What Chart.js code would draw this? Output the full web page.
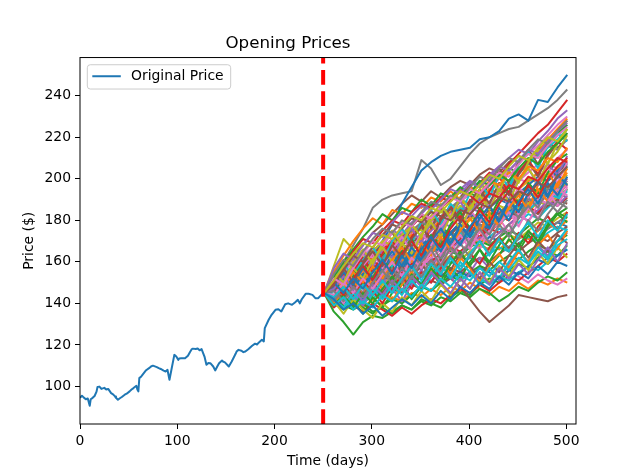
<!DOCTYPE html>
<html>
<head>
<meta charset="utf-8">
<script src="https://cdn.jsdelivr.net/npm/chart.js@4.4.0/dist/chart.umd.min.js"></script>
<style>
  html, body { margin: 0; padding: 0; background: #fff; }
</style>
</head>
<body>
<canvas id="priceChart" width="640" height="476"></canvas>
<script>
// axis limits and ticks
const xMin = 0, xMax = 510;
const yMin = 81.9, yMax = 258.4;
const xTicks = [0, 100, 200, 300, 400, 500];
const yTicks = [100, 120, 140, 160, 180, 200, 220, 240];
const splitDay = 250;

// original series
const origDays = [0, 2, 4, 6, 8, 10, 11, 13, 15, 17, 18, 20, 22, 25, 27, 29, 32, 34, 36, 37, 39, 41, 43, 44, 46, 48, 51, 53, 55, 58,
  59, 60, 61, 63, 65, 67, 68, 71, 73, 75, 79, 81, 83, 86, 88, 90, 91, 92, 94, 97, 99, 101, 102, 104, 108, 111, 113, 115, 116, 119,
  121, 123, 125, 128, 130, 132, 134, 137, 139, 141, 143, 146, 147, 149, 153, 156, 160, 161, 163, 166, 168, 170, 173, 177, 180, 182,
  184, 187, 189, 190, 194, 197, 201, 204, 207, 211, 214, 218, 221, 224, 226, 228, 232, 235, 239, 242, 245, 249, 251];
const origPrices = [94.5, 95.5, 94.6, 93.8, 94.2, 90.7, 93.8, 94.5, 95.4, 97.5, 99.7, 99.9, 98.8, 99.3, 98.5, 98.8, 96.8, 96.2, 95.2, 94.5,
  93.6, 94.3, 94.9, 95.3, 96.0, 96.5, 97.6, 98.5, 99.2, 100.3, 98.5, 97.6, 104.0, 104.8, 106.0, 107.2, 107.8, 108.8, 109.6, 110.0,
  109.3, 108.8, 108.4, 107.6, 107.2, 108.0, 105.5, 103.2, 108.0, 115.2, 114.4, 112.8, 113.5, 113.6, 113.6, 114.8, 116.5, 118.0, 118.2, 118.0,
  118.3, 117.4, 118.0, 114.4, 110.4, 111.3, 111.2, 109.6, 107.7, 109.5, 111.2, 112.5, 112.0, 111.6, 109.6, 112.0, 115.7, 116.8, 117.6, 117.2,
  116.5, 116.8, 117.9, 119.6, 120.6, 120.2, 121.2, 122.5, 121.7, 128.1, 132.1, 134.5, 136.9, 137.2, 136.1, 139.6, 140.0, 139.3, 140.4, 141.7,
  140.0, 142.0, 144.6, 144.6, 144.1, 142.5, 142.5, 144.6, 144.9];

// simulated paths, sampled every 10 days
const simDays = [251, 261, 271, 281, 291, 301, 311, 321, 331, 341, 351, 361, 371, 381, 391, 401, 411, 421, 431, 441, 451, 461, 471, 481, 491, 501];
const simPaths = [
  [145,148,146,151,149,155,153,158,162,160,166,164,170,168,173,176,174,179,182,180,186,184,189,192,190,195],
  [145,136,131,125,131,134,133,136,139,137,142,140,138,143,146,144,149,152,150,156,159,157,162,165,163,168],
  [145,142,147,144,150,148,153,151,157,161,158,164,168,166,171,175,172,178,182,180,185,189,187,193,197,200],
  [145,141,138,143,140,146,150,148,154,158,156,162,160,166,170,173,171,176,180,184,182,188,192,190,196,201],
  [145,152,158,163,168,174,178,183,188,192,189,194,191,196,199,197,202,205,203,208,211,209,214,217,215,219],
  [145,156,160,158,163,167,165,170,174,172,176,180,178,182,186,184,189,193,191,196,200,198,203,207,205,210],
  [145,152,160,168,176,186,190,192,193,194,209,205,197,200,206,212,217,220,222,224,225,228,231,234,238,243],
  [145,158,171,166,162,164,160,165,163,168,166,171,169,174,172,177,175,180,178,183,186,184,189,187,192,195],
  [145,140,143,139,145,142,148,146,151,155,153,158,162,160,165,169,167,172,176,174,179,183,181,186,190,194],
  [145,148,152,155,158,163,170,178,188,196,204,208,211,213,214,215,219,220,223,229,231,228,238,237,244,250],
  [145,141,144,140,138,142,139,143,141,145,143,147,144,148,146,150,147,144,148,146,150,147,151,149,152,150],
  [145,143,139,137,140,136,138,135,139,137,141,139,143,141,145,143,147,145,141,144,148,146,150,153,151,155],
  [145,147,151,149,154,152,157,160,158,163,161,166,170,168,173,171,176,174,179,183,181,186,184,189,187,191],
  [145,150,154,158,156,161,165,163,168,172,170,175,179,177,182,186,184,189,194,199,203,208,212,216,221,226],
  [145,144,140,143,141,145,143,147,145,149,147,151,149,152,148,142,136,131,135,139,144,143,142,141,143,144],
  [145,146,142,145,143,147,144,148,146,150,153,151,155,152,156,154,158,155,152,156,153,150,154,151,149,152],
  [145,149,153,151,156,160,158,163,161,166,170,168,173,171,176,174,179,183,181,186,190,188,193,197,195,199],
  [145,151,148,154,152,157,161,159,164,162,167,171,169,174,178,176,181,179,184,188,186,191,195,193,198,202],
  [145,148,153,151,157,162,160,166,170,168,174,178,176,182,186,184,190,194,198,196,203,207,211,215,219,224],
  [145,147,144,149,152,150,155,158,156,161,164,167,165,170,173,171,168,172,170,167,171,174,172,176,179,177],
  [145,150,155,153,158,162,166,171,169,174,178,182,180,185,189,187,192,188,193,197,195,199,203,201,205,209],
  [145,140,137,141,138,135,139,142,140,144,148,146,150,153,151,155,158,156,160,163,161,165,168,166,170,173],
  [145,138,142,139,136,140,137,134,138,135,139,142,140,144,147,145,149,146,150,153,151,155,158,162,160,164],
  [145,149,146,151,155,153,158,156,161,164,162,167,171,169,173,177,175,180,184,182,187,190,188,193,197,199],
  [145,147,151,155,159,157,162,166,164,169,173,171,176,174,179,182,180,177,181,184,182,186,183,187,190,188],
  [145,150,146,151,155,159,157,162,166,170,168,173,177,181,185,183,188,192,196,194,199,203,207,205,210,214],
  [145,143,148,146,151,149,154,152,156,159,157,161,158,163,161,165,168,166,170,167,171,174,172,176,179,182],
  [145,148,145,150,153,157,155,160,163,161,166,169,173,171,176,180,184,182,187,185,190,188,193,196,194,198],
  [145,141,138,142,140,144,147,145,149,152,150,154,157,155,151,154,152,149,153,151,155,158,156,160,163,166],
  [145,144,148,146,150,153,151,155,158,162,160,164,168,171,169,174,178,176,180,184,188,186,191,195,193,197],
  [145,148,152,150,154,152,157,160,158,163,167,165,169,167,164,168,171,169,166,170,173,171,175,178,176,180],
  [145,151,156,154,160,165,163,168,173,171,177,181,179,185,189,193,191,197,201,205,203,209,214,218,222,226],
  [145,149,154,152,158,163,168,166,172,177,182,180,186,190,195,193,198,203,201,207,212,217,222,226,232,238],
  [145,150,156,161,159,165,170,175,173,179,183,188,186,191,195,199,197,202,206,210,214,212,218,223,229,233],
  [145,142,146,144,148,151,149,153,151,155,158,156,153,157,155,159,162,160,164,167,165,169,172,170,174,177],
  [145,151,155,160,164,162,167,171,175,173,178,182,186,184,189,193,197,195,200,204,208,212,216,221,226,230],
  [145,146,150,148,153,157,155,160,164,162,167,165,170,174,172,177,175,180,178,183,181,186,190,188,193,191],
  [145,152,157,162,160,165,170,168,173,177,175,180,184,182,187,185,190,188,193,197,195,200,198,203,201,205],
  [145,144,141,145,143,147,150,148,152,150,155,153,157,160,158,162,160,164,167,165,169,172,170,174,177,175],
  [145,143,140,144,142,146,144,148,151,149,153,156,154,152,155,153,157,155,152,156,154,158,161,159,163,166],
  [145,147,150,154,158,156,161,165,169,173,171,176,180,184,182,187,191,195,193,198,203,208,213,219,224,229],
  [145,146,143,147,150,148,152,155,153,157,160,158,162,165,163,167,170,168,172,175,173,177,181,179,183,186],
  [145,148,151,149,153,150,154,157,155,159,162,160,164,167,165,169,172,176,174,178,182,186,184,189,193,197],
  [145,140,143,147,145,149,152,150,154,157,161,159,163,166,164,168,172,170,174,178,182,180,185,189,187,192],
  [145,149,147,151,154,158,156,160,164,168,166,171,175,173,178,176,181,185,183,188,192,196,194,199,203,207],
  [145,140,144,142,146,150,148,152,156,154,158,162,166,164,168,172,170,175,179,183,181,186,190,188,193,197],
  [145,148,152,156,160,164,162,167,171,175,179,177,182,186,190,188,193,197,201,199,204,208,212,216,214,219],
  [145,143,146,144,148,145,149,153,151,155,158,156,160,163,161,165,168,166,170,173,171,175,179,177,181,184],
  [145,146,150,148,152,156,154,158,162,160,165,168,166,170,174,172,176,180,178,183,187,185,189,193,191,195],
  [145,148,146,150,154,158,156,161,165,163,168,172,176,174,179,183,181,186,190,188,193,197,201,199,204,208],
  [145,150,143,149,156,151,158,152,160,166,159,168,174,167,176,181,175,184,178,188,194,186,197,203,196,205],
  [145,139,146,141,135,143,138,145,150,142,148,155,149,157,152,160,166,158,163,171,165,173,168,177,183,179],
  [145,153,147,156,162,155,164,170,163,172,178,171,181,187,180,190,185,194,201,193,203,209,202,212,218,214],
  [145,142,150,144,139,146,152,147,141,149,156,150,158,153,147,155,162,157,151,159,165,160,168,163,170,174],
  [145,155,149,158,165,159,168,174,167,177,183,176,186,180,191,197,190,199,205,198,208,214,207,217,223,228],
  [145,147,140,148,143,151,146,154,159,152,161,155,164,170,162,171,166,175,181,174,184,179,188,194,187,196],
  [145,149,156,150,145,153,158,151,160,155,163,169,161,170,176,168,178,173,182,188,181,191,186,195,201,197],
  [145,141,135,142,137,133,140,136,143,139,146,141,149,144,152,147,155,150,158,153,161,156,164,159,167,162],
  [145,152,159,153,161,167,160,170,176,169,179,185,178,188,183,193,199,191,202,196,207,213,205,216,222,218],
  [145,146,152,147,154,149,157,163,156,165,160,169,175,167,177,172,181,187,179,189,184,193,199,191,201,206],
  [145,140,146,151,144,152,147,141,149,155,148,156,161,154,162,157,150,158,164,157,165,160,168,173,166,175],
  [145,151,145,153,159,152,161,156,165,171,163,173,168,178,184,176,186,181,190,196,188,198,193,203,209,212],
  [145,143,149,144,151,146,140,148,153,147,155,150,157,163,156,164,159,167,172,165,174,169,177,182,175,184],
  [145,156,150,159,165,158,167,162,171,176,169,179,174,183,189,182,191,186,195,190,199,205,197,207,202,211],
  [145,147,142,149,144,150,145,152,158,151,159,153,161,156,164,158,152,160,155,163,169,162,170,165,173,169],
  [145,150,157,151,158,164,157,166,172,165,174,168,177,183,176,185,179,188,194,187,196,191,200,206,198,208],
  [145,141,147,142,149,144,151,157,150,158,153,161,155,163,169,162,170,164,172,178,171,180,175,183,189,186],
  [145,154,148,157,152,161,167,160,169,164,173,179,172,182,176,186,192,185,195,189,199,205,198,208,213,221],
  [145,142,138,145,140,147,142,149,144,151,146,153,159,152,160,155,149,157,152,160,166,159,167,162,170,176],
  [145,148,155,149,157,151,159,165,158,167,161,170,176,169,178,172,181,187,180,190,184,193,199,192,202,197],
  [145,153,147,155,150,158,152,161,167,160,169,163,172,166,175,181,174,183,177,186,192,185,195,189,198,203],
  [145,139,144,138,145,140,147,153,146,154,149,157,151,159,165,158,166,160,168,174,167,175,170,178,184,181],
  [145,149,144,152,158,151,160,155,164,170,163,172,167,176,182,175,185,179,188,194,187,197,191,200,206,210],
  [145,147,153,147,141,149,144,151,146,153,148,155,150,145,152,147,155,149,157,152,159,154,161,167,160,169],
  [145,151,157,150,159,165,158,168,162,171,177,170,180,186,179,189,195,188,198,192,202,208,201,211,217,222],
  [145,144,150,145,152,147,154,160,153,162,157,165,159,167,173,166,175,169,178,184,177,186,181,189,195,192],
  [145,146,141,148,143,150,156,149,157,152,160,166,158,167,162,170,176,169,178,172,181,187,180,189,184,190],
  [145,155,150,160,166,159,169,175,168,178,172,182,188,181,191,185,195,201,194,204,198,208,214,207,217,224],
  [145,143,148,142,149,144,151,145,152,158,151,159,154,162,156,164,170,163,171,165,173,179,172,180,175,183],
  [145,150,145,152,147,155,161,154,163,157,166,172,165,174,168,177,183,176,186,180,189,195,188,198,192,201],
  [145,155,163,170,176,181,178,185,183,188,186,191,189,194,190,196,193,199,197,203,200,206,204,210,208,215],
  [145,153,160,166,172,177,183,180,186,184,190,187,193,191,196,193,199,197,202,199,205,210,207,213,217,222],
  [145,150,158,165,171,169,175,180,178,184,188,186,191,189,194,192,188,193,191,197,195,201,199,205,210,208],
  [145,157,164,161,168,174,172,179,184,182,187,185,190,195,193,198,196,201,206,204,209,214,212,218,223,227],
  [145,149,156,163,160,167,173,178,176,181,179,184,182,180,185,183,188,186,191,189,194,192,198,196,201,206],
  [145,152,149,157,164,170,168,174,179,177,183,181,186,191,189,195,193,198,203,201,207,212,210,216,221,225],
  [145,154,161,158,165,171,176,174,180,178,184,189,187,192,190,196,201,199,205,210,208,214,219,217,223,228],
  [145,151,158,164,169,167,173,171,177,182,180,186,184,189,194,192,197,202,200,206,211,209,215,220,218,224],
  [145,139,143,137,141,138,144,141,147,143,149,146,152,148,154,151,157,153,160,156,162,159,165,161,168,171],
  [145,142,137,140,135,139,134,138,142,139,144,140,146,142,148,145,150,147,153,149,155,152,158,154,160,158]
];

const tab10 = ['#1f77b4', '#ff7f0e', '#2ca02c', '#d62728', '#9467bd',
  '#8c564b', '#e377c2', '#7f7f7f', '#bcbd22', '#17becf'];
const font = 'DejaVu Sans';

const datasets = [];
datasets.push({
  label: 'split',
  data: [{ x: splitDay, y: yMin }, { x: splitDay, y: yMax }],
  borderColor: '#ff0000',
  borderWidth: 4,
  borderDash: [14.8, 6.4],
  borderCapStyle: 'butt',
  order: -1
});
datasets.push({
  label: 'Original Price',
  data: origDays.map((d, i) => ({ x: d, y: origPrices[i] })),
  borderColor: tab10[0],
  borderWidth: 2,
  order: 10000
});
simPaths.forEach((path, i) => {
  datasets.push({
    label: 'sim ' + i,
    data: path.map((v, k) => ({ x: simDays[k], y: v })),
    borderColor: tab10[(i + 1) % 10],
    borderWidth: 2,
    order: 5000 - i
  });
});

// axes frame and the boxed legend inside the plot
const frameAndLegend = {
  id: 'frameAndLegend',
  afterDraw(chart) {
    const { ctx, chartArea: a } = chart;
    ctx.save();
    ctx.strokeStyle = '#000';
    ctx.lineWidth = 1;
    ctx.strokeRect(a.left, a.top, a.right - a.left, a.bottom - a.top);

    const x = a.left + 7.3, y = a.top + 7.2, w = 143.4, h = 24.3, r = 3;
    ctx.beginPath();
    ctx.moveTo(x + r, y);
    ctx.arcTo(x + w, y, x + w, y + h, r);
    ctx.arcTo(x + w, y + h, x, y + h, r);
    ctx.arcTo(x, y + h, x, y, r);
    ctx.arcTo(x, y, x + w, y, r);
    ctx.closePath();
    ctx.fillStyle = 'rgba(255,255,255,0.8)';
    ctx.fill();
    ctx.strokeStyle = '#cccccc';
    ctx.stroke();

    ctx.beginPath();
    ctx.moveTo(x + 5, y + 11.5);
    ctx.lineTo(x + 33.5, y + 11.5);
    ctx.strokeStyle = tab10[0];
    ctx.lineWidth = 2;
    ctx.stroke();

    ctx.fillStyle = '#000';
    ctx.font = '13.9px "' + font + '"';
    ctx.textBaseline = 'middle';
    ctx.textAlign = 'left';
    ctx.fillText('Original Price', x + 43.7, y + 12);
    ctx.restore();
  }
};

new Chart(document.getElementById('priceChart'), {
  type: 'line',
  data: { datasets: datasets },
  plugins: [frameAndLegend],
  options: {
    responsive: false,
    animation: false,
    events: [],
    layout: { padding: { left: 0, right: 64, top: 0, bottom: 0 } },
    elements: {
      point: { radius: 0 },
      line: { tension: 0, borderJoinStyle: 'round', fill: false }
    },
    plugins: {
      legend: { display: false },
      tooltip: { enabled: false },
      title: {
        display: true,
        text: 'Opening Prices',
        color: '#000',
        font: { family: font, size: 16.7, weight: 'normal' },
        padding: { top: 34, bottom: 3.5 }
      }
    },
    scales: {
      x: {
        type: 'linear',
        min: xMin,
        max: xMax,
        afterBuildTicks: s => { s.ticks = xTicks.map(v => ({ value: v })); },
        afterFit: s => { s.height = 52; },
        grid: { display: true, drawOnChartArea: false, drawTicks: true, tickLength: 5, color: '#000' },
        border: { display: false },
        ticks: { color: '#000', font: { family: font, size: 13.9 }, padding: 4, maxRotation: 0, autoSkip: false },
        title: {
          display: true,
          text: 'Time (days)',
          color: '#000',
          font: { family: font, size: 13.9 },
          padding: { top: 0, bottom: 6.5 }
        }
      },
      y: {
        min: yMin,
        max: yMax,
        afterBuildTicks: s => { s.ticks = yTicks.map(v => ({ value: v })); },
        afterFit: s => { s.width = 80; },
        grid: { display: true, drawOnChartArea: false, drawTicks: true, tickLength: 5, color: '#000' },
        border: { display: false },
        ticks: { color: '#000', font: { family: font, size: 13.9 }, padding: 4, autoSkip: false },
        title: {
          display: true,
          text: 'Price ($)',
          color: '#000',
          font: { family: font, size: 13.9 },
          padding: { top: 21.5, bottom: 0 }
        }
      }
    }
  }
});
</script>
</body>
</html>
